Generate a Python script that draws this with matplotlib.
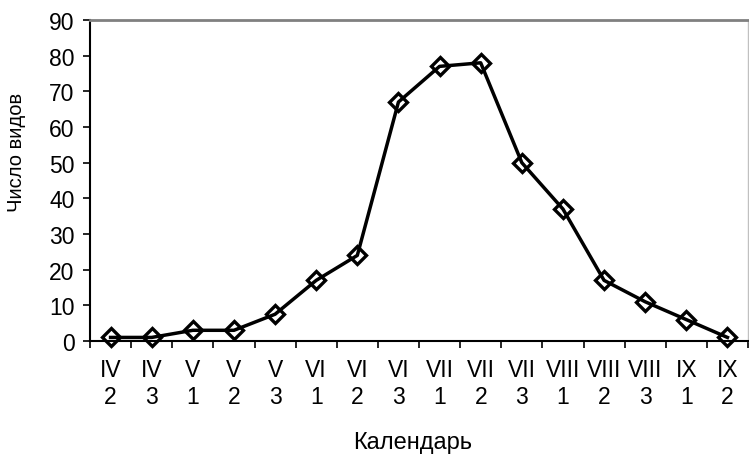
import matplotlib.pyplot as plt

plt.rcParams['font.family'] = ['Liberation Sans', 'DejaVu Sans']

months = ['IV', 'IV', 'V', 'V', 'V', 'VI', 'VI', 'VI', 'VII', 'VII',
          'VII', 'VIII', 'VIII', 'VIII', 'IX', 'IX']
decades = ['2', '3', '1', '2', '3', '1', '2', '3', '1', '2',
           '3', '1', '2', '3', '1', '2']
species = [1, 1, 3, 3, 7.5, 17, 24, 67, 77, 78, 50, 37, 17, 11, 6, 1]

labels = [m + '\n' + d for m, d in zip(months, decades)]
x = list(range(len(species)))

fig = plt.figure(figsize=(7.49, 4.6), dpi=100)
ax = fig.add_axes([90 / 749, 1 - 342 / 460, 658 / 749, 321 / 460])

ax.plot(x, species, color='black', lw=2.5, marker='D', ms=9,
        mfc='none', mec='black', mew=2.4, clip_on=False, zorder=3)

ax.set_ylim(0, 90)
ax.set_yticks(range(0, 91, 10))
ax.set_xlim(-0.5, 15.5)

ax.set_xticks(x)
ax.set_xticklabels(labels, fontsize=16.5, linespacing=1.25)
ax.set_xticks([i - 0.5 for i in range(len(species) + 1)], minor=True)
ax.tick_params(axis='x', which='major', length=0, pad=12)
ax.tick_params(axis='x', which='minor', length=5, direction='out', width=1.2)
ax.tick_params(axis='y', labelsize=16.5, length=5, width=1.2, pad=6)

ax.spines['top'].set_color('#808080')
ax.spines['top'].set_linewidth(2)
ax.spines['right'].set_color('#c0c0c0')
ax.spines['right'].set_linewidth(1)
ax.spines['left'].set_linewidth(1.5)
ax.spines['bottom'].set_linewidth(1.5)

ax.set_xlabel('Календарь', fontsize=17)
ax.xaxis.set_label_coords(0.491, -0.28)
ax.set_ylabel('Число видов', fontsize=14.5)
ax.yaxis.set_label_coords(-0.097, 0.59)

fig.savefig('out.png', dpi=100)
